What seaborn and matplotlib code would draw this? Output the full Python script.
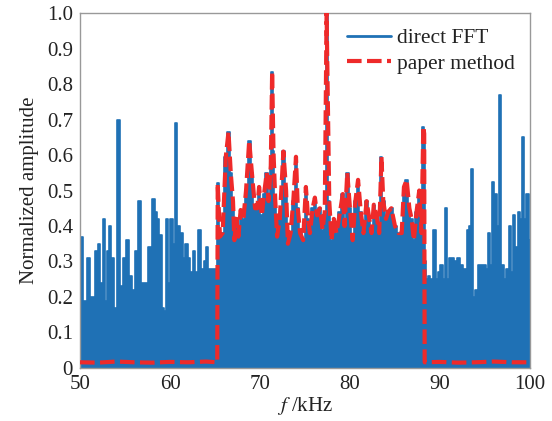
import numpy as np
import pandas as pd
import matplotlib
matplotlib.use("Agg")
import matplotlib.pyplot as plt
import seaborn as sns

# ---- data ----
# direct FFT, below the band (kHz / normalized amplitude of the local peaks)
f_left = [50.0, 50.2, 50.55, 50.96, 51.26, 51.55, 51.85, 52.1, 52.3, 52.7,
          52.9, 53.1, 53.35, 53.6, 53.9, 54.3, 54.6, 55.0, 55.3, 55.6,
          55.9, 56.3, 56.6, 56.9, 57.35, 57.85, 58.2, 58.45, 58.7, 58.95,
          59.25, 59.4, 59.6, 59.9, 60.2, 60.4, 60.6, 60.95, 61.25, 61.55,
          61.85, 62.15, 62.4, 62.65, 62.9, 63.3, 63.6, 63.85, 64.15, 64.4,
          64.7, 65.0, 65.2]
a_left = [0.16, 0.37, 0.19, 0.31, 0.20, 0.20, 0.33, 0.35, 0.24, 0.42,
          0.19, 0.33, 0.40, 0.31, 0.17, 0.70, 0.23, 0.31, 0.36, 0.26,
          0.22, 0.33, 0.47, 0.24, 0.24, 0.34, 0.475, 0.44, 0.42, 0.375,
          0.17, 0.16, 0.42, 0.24, 0.42, 0.35, 0.69, 0.40, 0.38, 0.31,
          0.35, 0.31, 0.27, 0.33, 0.27, 0.39, 0.28, 0.30, 0.34, 0.28,
          0.28, 0.28, 0.25]

# in-band spectrum (paper method; direct FFT has the same envelope there)
f_band = [65.3, 65.55, 65.85, 66.2, 66.5, 66.75, 67.0, 67.15, 67.4, 67.6,
          67.85, 68.15, 68.45, 68.8, 69.1, 69.45, 69.7, 69.9, 70.2, 70.45,
          70.75, 70.95, 71.2, 71.35, 71.5, 71.7, 71.9, 72.2, 72.6, 72.9,
          73.1, 73.4, 73.7, 74.0, 74.2, 74.45, 74.8, 75.1, 75.35, 75.55,
          75.85, 76.1, 76.35, 76.65, 76.95, 77.2, 77.4, 77.7, 77.95, 78.2,
          78.5, 78.9, 79.2, 79.4, 79.7, 80.0, 80.3, 80.6, 80.9, 81.2,
          81.5, 81.85, 82.15, 82.4, 82.65, 82.95, 83.25, 83.5, 83.7, 84.0,
          84.25, 84.6, 85.0, 85.4, 85.75, 86.0, 86.3, 86.6, 86.85, 87.1,
          87.4, 87.7, 87.95, 88.15, 88.25]
a_band = [0.52, 0.37, 0.38, 0.595, 0.665, 0.55, 0.47, 0.36, 0.42, 0.37,
          0.445, 0.42, 0.50, 0.64, 0.55, 0.45, 0.45, 0.51, 0.43, 0.49,
          0.55, 0.47, 0.57, 0.835, 0.61, 0.47, 0.37, 0.42, 0.61, 0.50,
          0.35, 0.38, 0.47, 0.595, 0.45, 0.38, 0.36, 0.51, 0.42, 0.38,
          0.45, 0.48, 0.43, 0.45, 0.39, 0.44, 1.0, 0.47, 0.36, 0.42,
          0.38, 0.44, 0.49, 0.40, 0.55, 0.45, 0.36, 0.47, 0.53, 0.44,
          0.38, 0.47, 0.42, 0.38, 0.46, 0.43, 0.38, 0.595, 0.47, 0.42,
          0.44, 0.45, 0.40, 0.38, 0.38, 0.51, 0.53, 0.45, 0.42, 0.36,
          0.44, 0.50, 0.38, 0.68, 0.66]

# direct FFT, above the band
f_right = [88.35, 88.5, 88.8, 89.1, 89.4, 89.65, 89.9, 90.2, 90.45, 90.7,
           90.95, 91.15, 91.4, 91.7, 92.05, 92.4, 92.8, 93.15, 93.35, 93.6,
           93.8, 94.1, 94.35, 94.6, 95.0, 95.2, 95.45, 95.7, 95.9, 96.2,
           96.4, 96.65, 97.0, 97.2, 97.5, 97.8, 98.05, 98.2, 98.5, 98.8,
           99.0, 99.2, 99.45, 99.75, 100.0]
a_right = [0.30, 0.25, 0.26, 0.25, 0.39, 0.25, 0.27, 0.29, 0.25, 0.45,
           0.25, 0.31, 0.31, 0.30, 0.31, 0.29, 0.28, 0.39, 0.40, 0.56,
           0.20, 0.22, 0.29, 0.29, 0.29, 0.28, 0.38, 0.29, 0.525, 0.49,
           0.40, 0.77, 0.29, 0.25, 0.28, 0.40, 0.27, 0.43, 0.34, 0.44,
           0.42, 0.65, 0.42, 0.49, 0.36]

# paper method outside the band (suppressed)
f_red_left = [50.0, 52.0, 54.0, 56.0, 58.0, 60.0, 62.0, 64.0, 65.25]
a_red_left = [0.016, 0.015, 0.018, 0.016, 0.015, 0.017, 0.016, 0.018, 0.016]
f_red_right = [88.3, 90.0, 92.0, 94.0, 96.0, 98.0, 100.0]
a_red_right = [0.016, 0.017, 0.015, 0.016, 0.018, 0.016, 0.016]

x_ticks = [50, 60, 70, 80, 90, 100]
y_ticks = [0, 0.1, 0.2, 0.3, 0.4, 0.5, 0.6, 0.7, 0.8, 0.9, 1.0]
y_ticklabels = ["0", "0.1", "0.2", "0.3", "0.4", "0.5", "0.6", "0.7", "0.8", "0.9", "1.0"]

blue_df = pd.DataFrame({"f": f_left + f_band + f_right,
                        "amp": a_left + a_band + a_right})
red_df = pd.DataFrame({"f": f_red_left + f_band + f_red_right,
                       "amp": a_red_left + a_band + a_red_right})

# ---- style ----
sns.set_style("white")
plt.rcParams["font.family"] = ["Liberation Serif", "DejaVu Serif"]
plt.rcParams["mathtext.fontset"] = "stix"

BLUE = "#1f71b5"
RED = "#ee2a2a"
SPINE = "#999999"

fig = plt.figure(figsize=(5.52, 4.21), dpi=100)
ax = fig.add_axes([0.145, 0.126, 0.815, 0.843])

ax.fill_between(blue_df["f"], 0, blue_df["amp"], step="mid", color=BLUE,
                linewidth=0, zorder=1)
sns.lineplot(data=blue_df, x="f", y="amp", ax=ax, color=BLUE, linewidth=1.2,
             estimator=None, sort=False, drawstyle="steps-mid",
             label="direct FFT", zorder=2)
sns.lineplot(data=red_df, x="f", y="amp", ax=ax, color=RED, linewidth=3.0,
             estimator=None, sort=False, label="paper method", zorder=3)
ax.lines[-1].set_dashes((3.5, 1.3))

ax.set_xlim(50, 100)
ax.set_ylim(0, 1.0)
ax.set_xticks(x_ticks)
ax.set_yticks(y_ticks)
ax.set_yticklabels(y_ticklabels)
ax.tick_params(direction="in", length=4, width=0.8, color=SPINE,
               labelsize=15, pad=5, labelcolor="#222222")
for s in ax.spines.values():
    s.set_color(SPINE)
    s.set_linewidth(1.0)

ax.set_xlabel("$f$ /kHz", fontsize=15, color="#222222", labelpad=1)
ax.set_ylabel("Normalized amplitude", fontsize=15, color="#222222", labelpad=6)

leg = ax.legend(loc="upper right", frameon=False, fontsize=15.5,
                handlelength=2.0, handletextpad=0.3, labelspacing=0.25,
                borderaxespad=0.3)
for h in leg.get_lines():
    h.set_linewidth(3.0 if h.get_color() == RED else 2.0)
    h.set_drawstyle("default")
for t in leg.get_texts():
    t.set_color("#222222")

fig.savefig("out.png", dpi=100)
